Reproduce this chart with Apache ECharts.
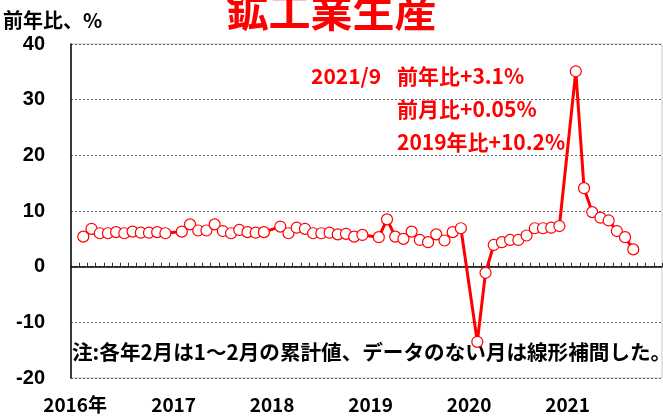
<!DOCTYPE html>
<html>
<head>
<meta charset="utf-8">
<script src="https://cdn.jsdelivr.net/npm/echarts@6/dist/echarts.min.js"></script>
<style>
  html, body { margin: 0; padding: 0; background: #fff; }
  #main-chart { width: 663px; height: 417px; }
</style>
</head>
<body>
<div id="main-chart"></div>
<script>
// 月ラベル (2016/1 - 2021/12)
const years = [2016, 2017, 2018, 2019, 2020, 2021];
const months = [];
years.forEach(y => { for (let m = 1; m <= 12; m++) months.push(y + '/' + m); });

// 前年比、% (1月はデータなし → null, 線でつなぐ)
const ip2016 = [null, 5.4, 6.8, 6.0, 6.0, 6.2, 6.0, 6.3, 6.1, 6.1, 6.2, 6.0];
const ip2017 = [null, 6.3, 7.6, 6.5, 6.5, 7.6, 6.4, 6.0, 6.6, 6.2, 6.1, 6.2];
const ip2018 = [null, 7.2, 6.0, 7.0, 6.8, 6.0, 6.0, 6.1, 5.8, 5.9, 5.4, 5.7];
const ip2019 = [null, 5.3, 8.5, 5.4, 5.0, 6.3, 4.8, 4.4, 5.8, 4.7, 6.2, 6.9];
const ip2020 = [null, -13.5, -1.1, 3.9, 4.4, 4.8, 4.8, 5.6, 6.9, 6.9, 7.0, 7.3];
const ip2021 = [null, 35.1, 14.1, 9.8, 8.8, 8.3, 6.4, 5.3, 3.1];
const values = [].concat(ip2016, ip2017, ip2018, ip2019, ip2020, ip2021);

const yTicks = { min: -20, max: 40, step: 10 };

const chartDom = document.getElementById('main-chart');
const myChart = echarts.init(chartDom);

const jp = '"Noto Sans CJK JP", sans-serif';
const num = '"Liberation Sans", Arial, sans-serif';

const option = {
    animation: false,
    title: {
        text: '鉱工業生産',
        left: 'center',
        top: -15,
        textStyle: { color: '#ff0000', fontSize: 42, fontWeight: 'bold', fontFamily: jp }
    },
    grid: { left: 68, right: 1, top: 44, bottom: 39, show: true, borderColor: '#c8c8c8', borderWidth: 1 },
    xAxis: {
        type: 'category',
        data: months,
        boundaryGap: true,
        axisLine: { lineStyle: { color: '#000', width: 1.5 } },
        axisTick: { show: true, inside: true, length: 4, interval: 0, lineStyle: { color: '#333' } },
        axisLabel: {
            interval: (i) => i % 12 === 0,
            formatter: (v) => {
                const y = v.split('/')[0];
                return y === '2016' ? y + '年' : y;
            },
            margin: 17,
            color: '#000',
            fontSize: 19,
            fontWeight: 'bold',
            fontFamily: jp
        },
        splitLine: { show: false }
    },
    yAxis: {
        type: 'value',
        min: yTicks.min,
        max: yTicks.max,
        interval: yTicks.step,
        name: '前年比、%',
        nameLocation: 'end',
        nameGap: 14,
        nameTextStyle: { color: '#000', fontSize: 20, fontWeight: 'bold', fontFamily: jp, align: 'left', padding: [0, 0, 0, -68] },
        axisLine: { show: true, lineStyle: { color: '#000', width: 1.5 } },
        axisTick: { show: false },
        axisLabel: { color: '#000', fontSize: 20, fontWeight: 'bold', fontFamily: num, margin: 26 },
        splitLine: { show: true, lineStyle: { color: '#666', type: [2, 2], width: 1 } }
    },
    graphic: [
        {
            type: 'text', left: 311, top: 66,
            style: { text: '2021/9', fill: '#ff0000', font: 'bold 21px ' + jp }
        },
        {
            type: 'text', left: 397, top: 66,
            style: { text: '前年比+3.1%', fill: '#ff0000', font: 'bold 21px ' + jp }
        },
        {
            type: 'text', left: 397, top: 99,
            style: { text: '前月比+0.05%', fill: '#ff0000', font: 'bold 21px ' + jp }
        },
        {
            type: 'text', left: 397, top: 132,
            style: { text: '2019年比+10.2%', fill: '#ff0000', font: 'bold 21px ' + jp }
        },
        {
            type: 'text', left: 72, top: 342,
            style: { text: '注:各年2月は1～2月の累計値、データのない月は線形補間した。', fill: '#000', font: 'bold 20.6px ' + jp }
        }
    ],
    series: [
        {
            name: '前年比',
            type: 'line',
            data: values,
            connectNulls: true,
            showAllSymbol: true,
            symbol: 'circle',
            symbolSize: 11,
            lineStyle: { color: '#ff0000', width: 3 },
            itemStyle: { color: '#fff', borderColor: '#ff0000', borderWidth: 1.2 },
            z: 3
        }
    ]
};

myChart.setOption(option);
</script>
</body>
</html>
